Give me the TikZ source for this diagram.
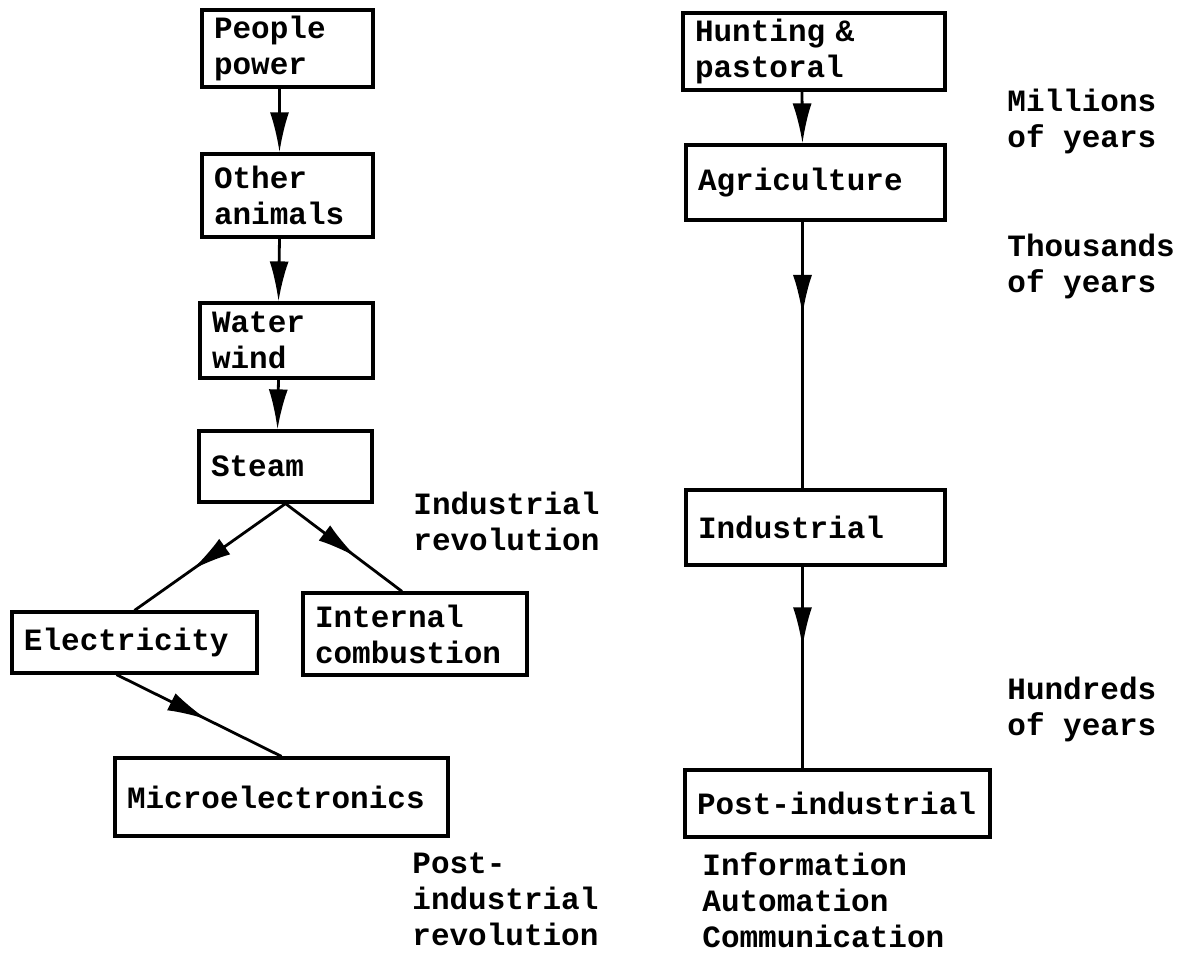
\documentclass[tikz,border=0pt]{standalone}
\usepackage{fontspec}
\newfontfamily\typewriter{Liberation Mono}
\usetikzlibrary{arrows.meta,decorations.markings}

\begin{document}
\begin{tikzpicture}[x=0.5pt,y=0.5pt,yscale=-1,xscale=1,
  box/.style={draw, line width=1.6pt, align=left, inner xsep=6pt, inner ysep=0pt,
    font={\typewriter\bfseries\fontsize{15.5}{18}\selectfont}},
  lbl/.style={anchor=north west, inner sep=0pt, align=left,
    font={\typewriter\bfseries\fontsize{15.5}{18}\selectfont}},
  flow/.style={line width=1.4pt, -{Latex[length=20pt,width=9.5pt]}},
  midflow/.style={line width=1.4pt, postaction={decorate},
    decoration={markings, mark=at position #1 with {\arrow{Latex[length=20pt,width=9.5pt]}}}}]
\useasboundingbox (0,0) rectangle (1184,953);

%Shape: Rectangle [energy sources]
\node[box, text width=73.5pt, minimum height=38.5pt] (people) at (287.5,48.5) {People\\power};
\node[box, text width=73.5pt, minimum height=41.5pt] (animals) at (287.5,195.5) {Other\\animals};
\node[box, text width=74.5pt, minimum height=37.5pt] (water) at (286.5,340.5) {Water\\wind};
\node[box, text width=74.5pt, minimum height=35.5pt] (steam) at (285.5,466.5) {Steam};
\node[box, text width=110.5pt, minimum height=30.5pt] (elec) at (134.5,642.5) {Electricity};
\node[box, text width=100pt, minimum height=41pt] (comb) at (415,634) {Internal\\combustion};
\node[box, text width=154.5pt, minimum height=39pt] (micro) at (281.5,797) {Microelectronics};

%Shape: Rectangle [societies]
\node[box, text width=119pt, minimum height=38.5pt] (hunt) at (814,51.5) {Hunting \&\\pastoral};
\node[box, text width=117.5pt, minimum height=37.5pt] (agri) at (815.5,182.5) {Agriculture};
\node[box, text width=117.5pt, minimum height=37.5pt] (indus) at (815.5,527.5) {Industrial};
\node[box, text width=140.5pt, minimum height=33.5pt] (post) at (837.5,803.5) {Post-industrial};

%Straight Lines [left column]
\draw[flow] ([xshift=-4pt]people.south) -- ([xshift=-4pt]animals.north);
\draw[flow] ([xshift=-4pt]animals.south) -- ([xshift=-4pt]water.north);
\draw[flow] ([xshift=-4pt]water.south) -- ([xshift=-4pt]steam.north);
\draw[midflow=0.62] (steam.south) -- (elec.north);
\draw[midflow=0.61] (steam.south) -- ([xshift=-6.5pt]comb.north);
\draw[midflow=0.55] ([xshift=-9pt]elec.south) -- (micro.north);

%Straight Lines [right column]
\draw[flow] ([xshift=-6pt]hunt.south) -- ([xshift=-6.5pt]agri.north);
\draw[midflow=0.35] ([xshift=-6.5pt]agri.south) -- ([xshift=-6.5pt]indus.north);
\draw[midflow=0.4] ([xshift=-6.5pt]indus.south) -- ([xshift=-6.5pt]indus.south |- post.north);

% Text Node
\node[lbl] (indrev) at (413,492) {Industrial\\revolution};
% Text Node
\node[lbl] (postrev) at (412,852) {Post-\\industrial\\revolution};
% Text Node
\node[lbl] (iac) at (702,852) {Information\\Automation\\Communication};
% Text Node
\node[lbl] (mill) at (1007,89) {Millions\\of years};
% Text Node
\node[lbl] (thou) at (1007,234) {Thousands\\of years};
% Text Node
\node[lbl] (hund) at (1007,677) {Hundreds\\of years};
\end{tikzpicture}
\end{document}
